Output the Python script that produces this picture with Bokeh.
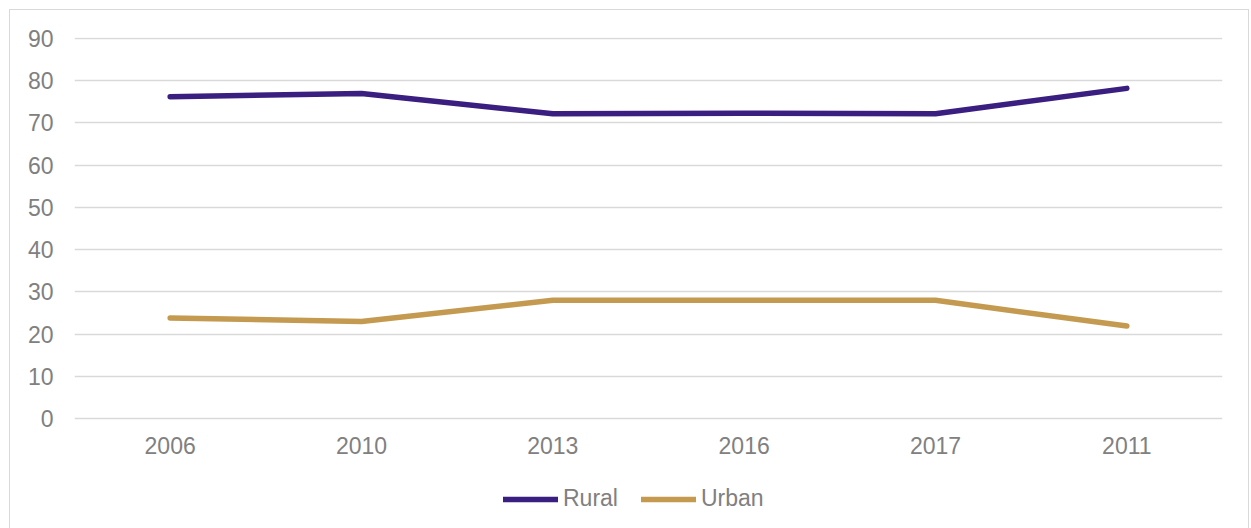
from bokeh.plotting import figure
from bokeh.models import (FactorRange, Range1d, FixedTicker, Legend, LegendItem,
                          ColumnDataSource)
from bokeh.embed import file_html
from bokeh.resources import INLINE

categories = ["2006", "2010", "2013", "2016", "2017", "2011"]
rural = [76.2, 77.0, 72.2, 72.3, 72.2, 78.2]
urban = [23.8, 23.0, 28.0, 28.0, 28.0, 21.9]
y_ticks = [0, 10, 20, 30, 40, 50, 60, 70, 80, 90]

FONT = "Liberation Sans"
TXT = "#808080"
GRID = "#d9d9d9"
RURAL_C = "#3a1e80"
URBAN_C = "#c49a50"
FS = "23px"

p = figure(width=1240, height=520, output_backend="svg", toolbar_location=None,
           x_range=FactorRange(factors=categories, range_padding=0),
           y_range=Range1d(-26.52, 90.25), x_axis_location="above",
           min_border_left=64, min_border_right=28, min_border_top=27, min_border_bottom=0)
p.margin = (9, 0, 0, 9)
p.styles = {"border": "1px solid #d9d9d9"}
p.outline_line_color = None
p.background_fill_color = "white"
p.border_fill_color = "white"

src = ColumnDataSource(dict(x=categories, rural=rural, urban=urban))
r1 = p.line("x", "rural", source=src, line_color=RURAL_C, line_width=5.5, line_cap="round", line_join="round")
r2 = p.line("x", "urban", source=src, line_color=URBAN_C, line_width=5.5, line_cap="round", line_join="round")

p.yaxis.ticker = FixedTicker(ticks=y_ticks)
for ax in (p.xaxis[0], p.yaxis[0]):
    ax.axis_line_color = None
    ax.major_tick_line_color = None
    ax.minor_tick_line_color = None
    ax.major_tick_out = 0
    ax.major_tick_in = 0
    ax.major_label_text_font = FONT
    ax.major_label_text_font_size = FS
    ax.major_label_text_color = TXT
p.yaxis.major_label_standoff = 21
p.xaxis.major_label_standoff = 0
p.xaxis.fixed_location = -8.5

p.xgrid.grid_line_color = None
p.ygrid.grid_line_color = GRID
p.ygrid.grid_line_width = 1.3

legend = Legend(items=[LegendItem(label="Rural", renderers=[r1]),
                       LegendItem(label="Urban", renderers=[r2])],
                orientation="horizontal", location=(429, 18),
                label_text_font=FONT, label_text_font_size=FS, label_text_color=TXT,
                border_line_alpha=0, background_fill_alpha=0, padding=0, margin=0,
                glyph_width=55, glyph_height=22, label_standoff=5, spacing=23)
p.add_layout(legend, "center")

open("out.html", "w").write(file_html(p, INLINE))
